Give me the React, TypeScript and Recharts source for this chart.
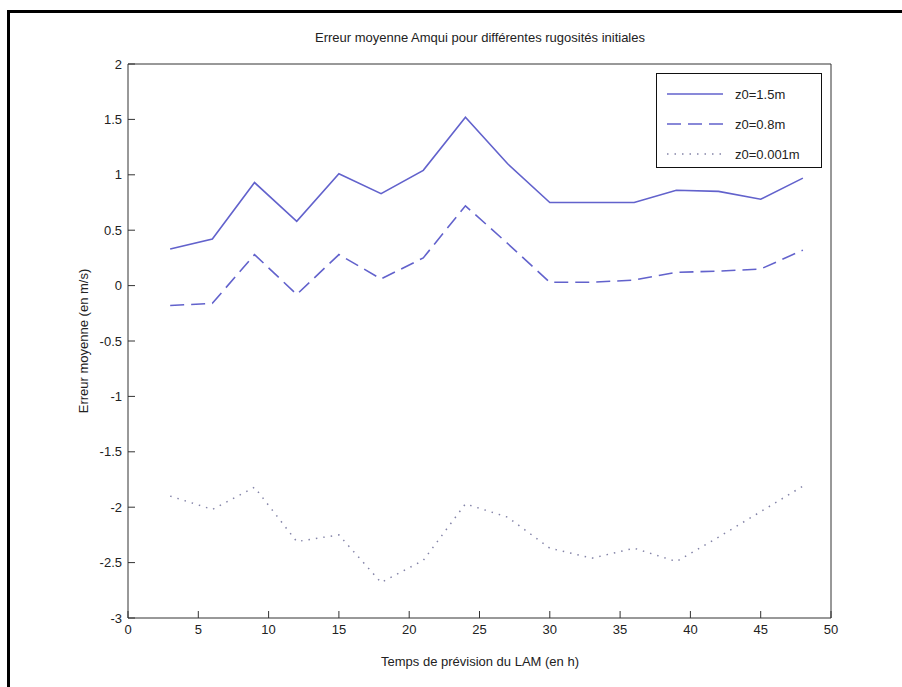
import React from "react";
import { LineChart, Line, XAxis, YAxis, Legend } from "recharts";

const hours = [3, 6, 9, 12, 15, 18, 21, 24, 27, 30, 33, 36, 39, 42, 45, 48];
const z15 = [0.33, 0.42, 0.93, 0.58, 1.01, 0.83, 1.04, 1.52, 1.1, 0.75, 0.75, 0.75, 0.86, 0.85, 0.78, 0.97];
const z08 = [-0.18, -0.16, 0.28, -0.08, 0.28, 0.06, 0.25, 0.72, 0.38, 0.03, 0.03, 0.05, 0.12, 0.13, 0.15, 0.32];
const z0001 = [-1.9, -2.02, -1.82, -2.31, -2.25, -2.68, -2.48, -1.97, -2.09, -2.37, -2.46, -2.37, -2.49, -2.27, -2.04, -1.81];
const seriesNames = ["z0=1.5m", "z0=0.8m", "z0=0.001m"];
const xTicks = [0, 5, 10, 15, 20, 25, 30, 35, 40, 45, 50];
const yTicks = [-3, -2.5, -2, -1.5, -1, -0.5, 0, 0.5, 1, 1.5, 2];

const data = hours.map((h, i) => ({ h, a: z15[i], b: z08[i], c: z0001[i] }));

const FONT = "'Liberation Sans', Arial, sans-serif";
const tickStyle = { fontSize: 13, fill: "#222", fontFamily: FONT };

const LegendBox = (props: any) => {
  const items = [...(props.payload || [])].sort(
    (p: any, q: any) => seriesNames.indexOf(p.value) - seriesNames.indexOf(q.value)
  );
  return (
    <div
      style={{
        border: "1.5px solid #111",
        background: "#fff",
        width: 166,
        height: 95,
        boxSizing: "border-box",
        paddingTop: 5,
        fontFamily: FONT,
        fontSize: 13,
        color: "#222",
        textAlign: "left",
      }}
    >
      {items.map((it: any) => (
        <div key={it.value} style={{ display: "flex", alignItems: "center", height: 30 }}>
          <svg width={68} height={10} style={{ marginLeft: 10 }}>
            <line
              x1={0}
              y1={5}
              x2={56}
              y2={5}
              stroke={it.color}
              strokeWidth={1.6}
              strokeDasharray={it.payload?.strokeDasharray}
            />
          </svg>
          <span>{it.value}</span>
        </div>
      ))}
    </div>
  );
};

export default function App() {
  return (
    <div
      style={{
        position: "absolute",
        left: 7,
        top: 10,
        width: 895,
        height: 677,
        borderTop: "3px solid #000",
        borderLeft: "3px solid #000",
        background: "#fff",
      }}
    >
      <div style={{ position: "absolute", left: -10, top: -13 }}>
        <LineChart
          width={902}
          height={687}
          data={data}
          margin={{ top: 63, right: 70, bottom: 29, left: 68 }}
        >
          <XAxis
            dataKey="h"
            type="number"
            domain={[0, 50]}
            ticks={xTicks}
            tickSize={-7}
            tickMargin={14}
            tick={tickStyle}
            stroke="#333"
            height={40}
            label={{
              content: () => (
                <text x={480} y={666} textAnchor="middle" fontSize={13} fill="#222" fontFamily={FONT}>
                  Temps de prévision du LAM (en h)
                </text>
              ),
            }}
          />
          <XAxis
            xAxisId="top"
            orientation="top"
            dataKey="h"
            type="number"
            domain={[0, 50]}
            ticks={xTicks}
            tickSize={-7}
            tick={false}
            stroke="#333"
            height={1}
            label={{
              content: () => (
                <text x={480} y={42} textAnchor="middle" fontSize={13} fill="#222" fontFamily={FONT}>
                  Erreur moyenne Amqui pour différentes rugosités initiales
                </text>
              ),
            }}
          />
          <YAxis
            type="number"
            domain={[-3, 2]}
            ticks={yTicks}
            tickSize={-7}
            tickMargin={13}
            tick={tickStyle}
            stroke="#333"
            width={60}
            label={{
              content: () => (
                <text
                  x={88}
                  y={341}
                  transform="rotate(-90 88 341)"
                  textAnchor="middle"
                  fontSize={13}
                  fill="#222"
                  fontFamily={FONT}
                >
                  Erreur moyenne (en m/s)
                </text>
              ),
            }}
          />
          <YAxis
            yAxisId="right"
            orientation="right"
            type="number"
            domain={[-3, 2]}
            ticks={yTicks}
            tickSize={-7}
            tick={false}
            stroke="#333"
            width={1}
          />
          <Legend
            layout="horizontal"
            verticalAlign="middle"
            align="center"
            content={<LegendBox />}
            wrapperStyle={{ position: "absolute", left: 656, top: 73, width: 166 }}
          />
          <Line
            dataKey="a"
            name={seriesNames[0]}
            stroke="#6262cc"
            strokeWidth={1.6}
            dot={false}
            isAnimationActive={false}
          />
          <Line
            dataKey="b"
            name={seriesNames[1]}
            stroke="#6262cc"
            strokeWidth={1.6}
            strokeDasharray="14 7"
            dot={false}
            isAnimationActive={false}
          />
          <Line
            dataKey="c"
            name={seriesNames[2]}
            xAxisId="top"
            yAxisId="right"
            stroke="#8484a8"
            strokeWidth={1.5}
            strokeDasharray="1.5 6"
            dot={false}
            isAnimationActive={false}
          />
        </LineChart>
      </div>
    </div>
  );
}
